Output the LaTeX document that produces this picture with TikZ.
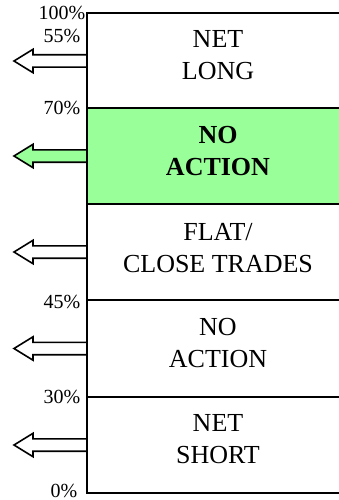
\documentclass[tikz,border=0pt]{standalone}
\usepackage{fontspec}
\setmainfont{Liberation Serif}
\definecolor{lgreen}{RGB}{153,255,153}
\begin{document}
\begin{tikzpicture}[x=1pt,y=-1pt,line width=1.6pt,
  pctlabel/.style={anchor=east,font=\fontsize{20}{20}\selectfont,inner sep=0pt},
  rowtext/.style={align=center,font=\fontsize{26}{32}\selectfont,inner sep=0pt},
  outarr/.pic={\draw[pic actions,line join=miter] (-73,0) -- (-54,-11.7) -- (-54,-6.2) -- (0,-6.2) -- (0,6.2) -- (-54,6.2) -- (-54,11.7) -- cycle;}]
\useasboundingbox (0,0) rectangle (339,500);
% green band
\fill[lgreen] (87,108) rectangle (345,204);
% frame
\draw (345,13) -- (87,13) -- (87,493) -- (345,493);
\foreach \yy in {108,204,300,397} \draw (87,\yy) -- (345,\yy);
% arrows
\pic[fill=white] at (87,61) {outarr};
\pic[fill=lgreen] at (87,156) {outarr};
\pic[fill=white] at (87,252) {outarr};
\pic[fill=white] at (87,348.5) {outarr};
\pic[fill=white] at (87,445) {outarr};
% percent labels
\node[pctlabel] (p100) at (86,12.5) {100\%};
\node[pctlabel] (p55) at (81,36) {55\%};
\node[pctlabel] (p70) at (81,108) {70\%};
\node[pctlabel] (p45) at (81,301.5) {45\%};
\node[pctlabel] (p30) at (81,397) {30\%};
\node[pctlabel] (p0) at (78,490.5) {0\%};
% row texts
\node[rowtext] (t1) at (218,55.5) {NET\\LONG};
\node[rowtext,font=\fontsize{26}{32}\selectfont\bfseries] (t2) at (218,151) {NO\\ACTION};
\node[rowtext] (t3) at (218,248) {FLAT/\\CLOSE TRADES};
\node[rowtext] (t4) at (218,343) {NO\\ACTION};
\node[rowtext] (t5) at (218,439) {NET\\SHORT};
\end{tikzpicture}
\end{document}
